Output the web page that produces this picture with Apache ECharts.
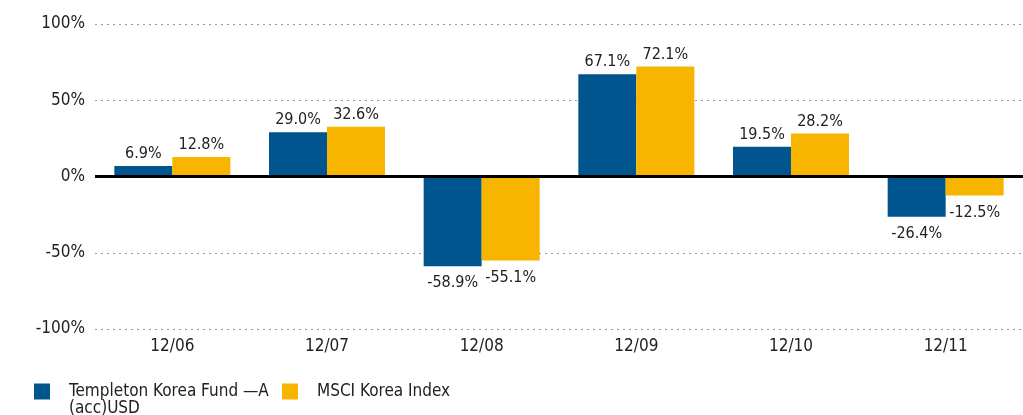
<!DOCTYPE html>
<html>
<head>
<meta charset="utf-8">
<script src="https://cdn.jsdelivr.net/npm/echarts@6/dist/echarts.min.js"></script>
<style>
  html, body { margin: 0; padding: 0; background: #fff; }
  #chart { width: 1023px; height: 415px; }
</style>
</head>
<body>
<div id="chart"></div>
<script>
var categories = ['12/06', '12/07', '12/08', '12/09', '12/10', '12/11'];
var fundName = 'Templeton Korea Fund \u2014A';
var fundNameLine2 = '(acc)USD';
var indexName = 'MSCI Korea Index';
var fundValues = [6.9, 29.0, -58.9, 67.1, 19.5, -26.4];
var indexValues = [12.8, 32.6, -55.1, 72.1, 28.2, -12.5];

var font = '"DejaVu Sans Condensed", sans-serif';
var myChart = echarts.init(document.getElementById('chart'));

function barLabel(params) {
  return params.value.toFixed(1) + '%';
}

function legendAt(left, name) {
  return {
    left: left,
    top: 383,
    padding: 0,
    itemWidth: 16,
    itemHeight: 16,
    icon: 'rect',
    textStyle: { fontFamily: font, fontSize: 17, color: '#222', padding: [0, 0, 0, 14] },
    data: [name]
  };
}

var option = {
  animation: false,
  textStyle: { fontFamily: font },
  legend: [legendAt(34, fundName), legendAt(282, indexName)],
  graphic: [{
    type: 'text',
    left: 69,
    top: 400,
    style: { text: fundNameLine2, font: '17px ' + font, fill: '#222' }
  }],
  grid: {
    left: 95,
    right: -15,
    top: 24,
    bottom: 86
  },
  xAxis: {
    type: 'category',
    data: categories,
    axisLine: { show: false },
    axisTick: { show: false },
    axisLabel: { fontFamily: font, fontSize: 17, color: '#222', margin: 9 }
  },
  yAxis: {
    type: 'value',
    min: -100,
    max: 100,
    interval: 50,
    axisLine: { show: false },
    axisTick: { show: false },
    axisLabel: {
      fontFamily: font, fontSize: 17, color: '#222', margin: 10,
      formatter: '{value}%'
    },
    splitLine: { lineStyle: { color: '#999', type: [2, 4], width: 1 } }
  },
  series: [
    {
      name: fundName,
      type: 'bar',
      data: fundValues,
      barWidth: 58,
      barGap: '0%',
      itemStyle: { color: '#00558F' },
      label: {
        show: true,
        formatter: barLabel,
        fontFamily: font, fontSize: 16, color: '#222', distance: 4,
        position: 'top'
      },
      markLine: {
        silent: true,
        symbol: 'none',
        label: { show: false },
        lineStyle: { color: '#000', type: 'solid', width: 3 },
        data: [{ yAxis: 0 }]
      }
    },
    {
      name: indexName,
      type: 'bar',
      data: indexValues,
      barWidth: 58,
      barGap: '0%',
      itemStyle: { color: '#F8B500' },
      label: {
        show: true,
        formatter: barLabel,
        fontFamily: font, fontSize: 16, color: '#222', distance: 4,
        position: 'top'
      }
    }
  ]
};

// negative bars get their labels underneath
option.series.forEach(function (s) {
  s.data = s.data.map(function (v) {
    return v < 0 ? { value: v, label: { position: 'bottom', distance: 9 } } : v;
  });
});

myChart.setOption(option);
window.addEventListener('resize', function () {
  myChart.resize();
});
</script>
</body>
</html>
